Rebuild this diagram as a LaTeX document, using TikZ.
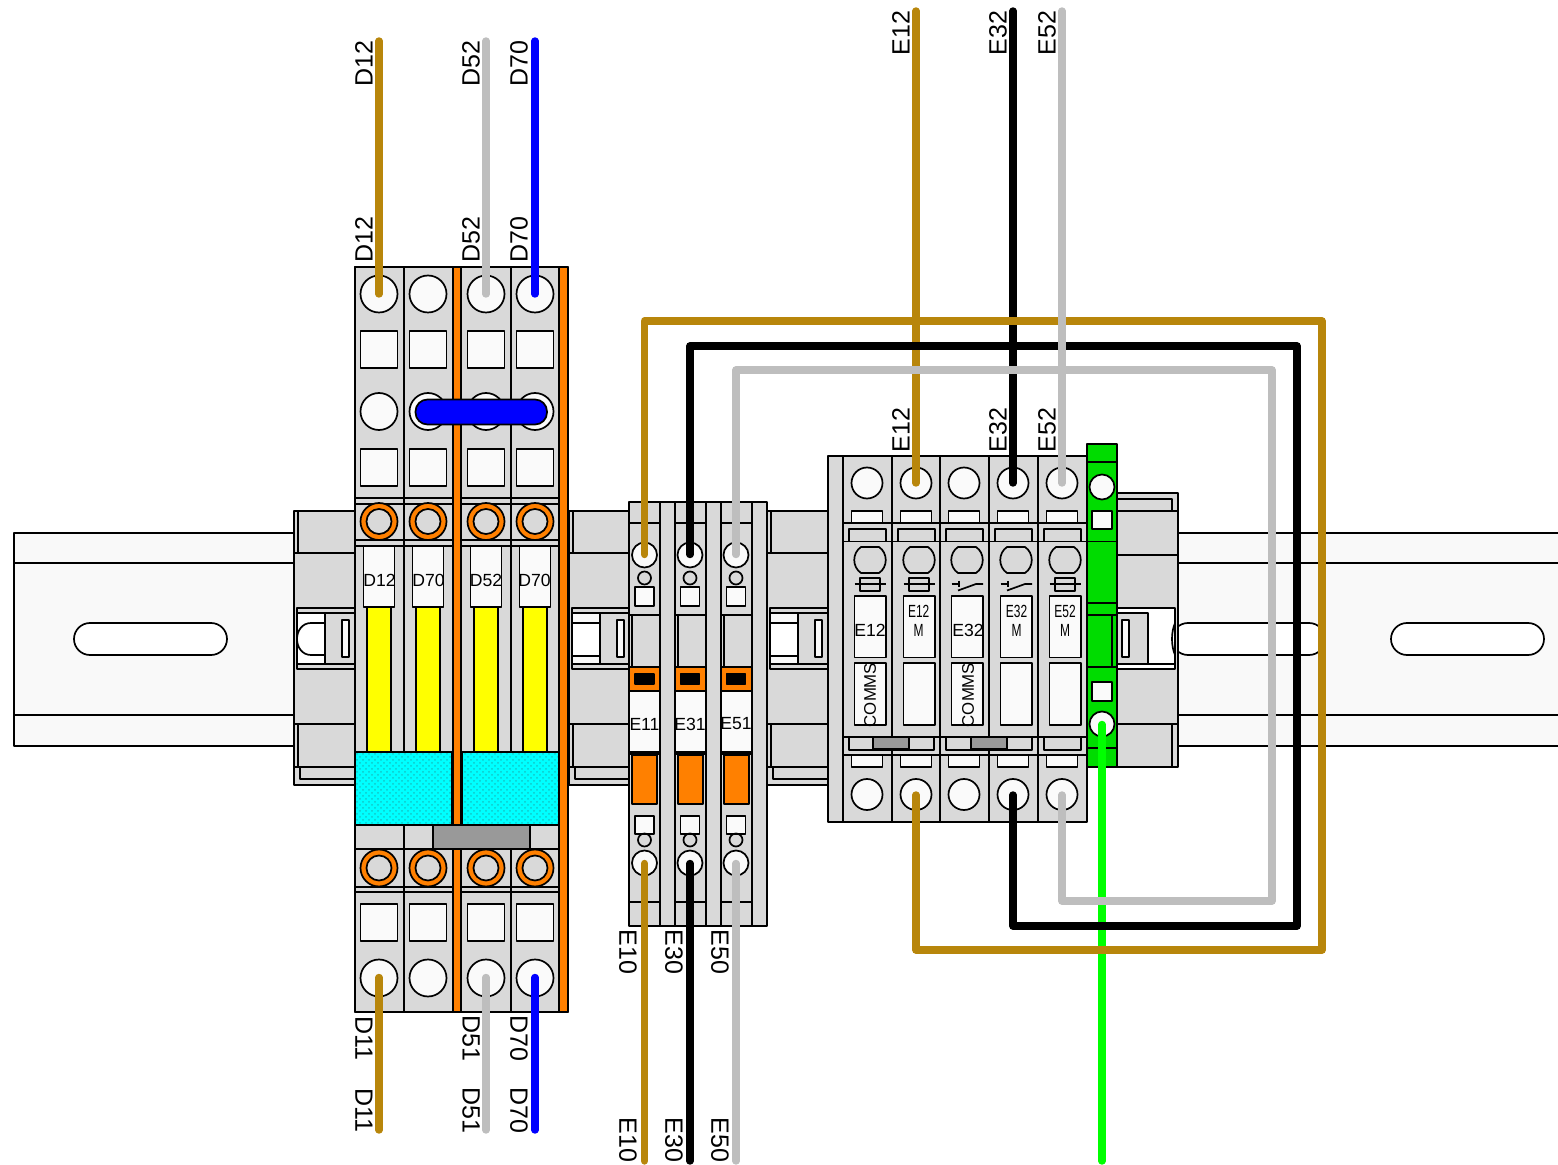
\documentclass[tikz,border=0pt]{standalone}
\usepackage{fontspec}
\setmainfont{Liberation Sans}
\usepackage{tikz}
\usetikzlibrary{patterns}
\tikzset{ln/.style={draw=black,line width=.85pt,line join=round}}
\tikzset{wire/.style={line width=3.7pt,line cap=round,line join=round}}
\tikzset{l/.style={font=\fontsize{12.5}{12.5}\selectfont,inner sep=0pt}}
\tikzset{m/.style={font=\fontsize{8.8}{9.2}\selectfont,inner sep=0pt}}
\definecolor{bodygrey}{HTML}{D9D9D9}
\definecolor{paper}{HTML}{FAFAFA}
\definecolor{railfill}{HTML}{F9F9F9}
\definecolor{capgrey}{HTML}{999999}
\definecolor{ferrule}{HTML}{FF8000}
\definecolor{goldwire}{HTML}{B8860B}
\definecolor{greywire}{HTML}{BEBEBE}
\definecolor{earthgreen}{HTML}{00DC00}
\definecolor{fuseyellow}{HTML}{FFFF00}
\definecolor{surgecyan}{HTML}{00FFFF}
\definecolor{surgedots}{HTML}{306060}
\newcommand{\cond}[1]{\scalebox{.68}[1]{#1}}

\begin{document}
\begin{tikzpicture}[x=.5pt,y=-.5pt]
  \useasboundingbox (0,0) rectangle (1558,1165);
  % rail
  \fill[railfill] (14,533) rectangle (1560,746);
  \draw[ln] (1560,533) -- (14,533) -- (14,746) -- (1560,746);
  \draw[ln] (14,563) -- (1560,563);
  \draw[ln] (14,715) -- (1560,715);
  \foreach \x in {74,1172,1391}
    \draw[ln,fill=white,rounded corners=8pt] (\x,623) rectangle (\x+153,655);

  % end brackets
  \foreach \x in {294,569,767} {
    \draw[ln,fill=bodygrey] (\x,511) rectangle (\x+62,785);
    \draw[ln] (\x+4,511) -- (\x+4,553);
    \draw[ln] (\x,553) -- (\x+62,553);
    \draw[ln] (\x,724) -- (\x+62,724);
    \draw[ln] (\x+4,724) -- (\x+4,767);
    \draw[ln] (\x,767) -- (\x+62,767);
    \draw[ln] (\x+6,767) -- (\x+6,779) -- (\x+62,779);
    \draw[ln] (\x+3,608) rectangle (\x+62,669);
    \draw[ln] (\x+3,613) -- (\x+62,613);
    \draw[ln] (\x+3,664) -- (\x+62,664);
    \draw[ln,fill=white] (\x+3,613) rectangle (\x+31,664);
    \draw[ln,fill=paper] (\x+48,620) rectangle (\x+55,657);
  }
  \draw[ln] (325,623) -- (311,623) .. controls (302,623) and (297,631) .. (297,639)
    .. controls (297,647) and (302,655) .. (311,655) -- (325,655);
  \foreach \x in {569,767} {
    \draw[ln,fill=railfill] (\x+3,613) rectangle (\x+31,623);
    \draw[ln,fill=railfill] (\x+3,656) rectangle (\x+31,664);
  }
  % bracket beside the earth block
  \draw[ln,fill=bodygrey] (1117,493) rectangle (1178,767);
  \draw[ln] (1117,499) -- (1172,499) -- (1172,511);
  \draw[ln] (1117,511) -- (1178,511);
  \draw[ln] (1117,555) -- (1178,555);
  \draw[ln] (1117,724) -- (1178,724);
  \draw[ln] (1172,724) -- (1172,767);
  \draw[ln,fill=white] (1117,608) rectangle (1175,669);
  \draw[ln] (1117,664) -- (1175,664);
  \draw[ln,fill=bodygrey] (1117,613) rectangle (1148,664);
  \draw[ln,fill=paper] (1122,620) rectangle (1129,657);
  \draw[ln] (1175,623) .. controls (1173,628) and (1172,633) .. (1172,639)
    .. controls (1172,645) and (1173,650) .. (1175,655);

  % D block
  \draw[ln,fill=bodygrey] (355,267) rectangle (568,1012);
  \fill[ferrule] (453,267) rectangle (461,1012);
  \fill[ferrule] (559,267) rectangle (568,1012);
  \draw[ln] (355,267) rectangle (568,1012);
  \foreach \x in {404,453,461,511,559}
    \draw[ln] (\x,267) -- (\x,1012);
  \foreach \y in {498,504,540,546,849,887,892} {
    \draw[ln] (355,\y) -- (453,\y);
    \draw[ln] (461,\y) -- (559,\y);
  }
  \foreach \x in {379,428,486,535} {
    \draw[ln,fill=paper] (\x,294) circle (18.5);
    \draw[ln,fill=paper] (\x-18.5,331) rectangle (\x+18.5,368);
    \draw[ln,fill=paper] (\x,411.5) circle (18.5);
    \draw[ln,fill=paper] (\x-18.5,449) rectangle (\x+18.5,486);
    \draw[ln,fill=ferrule] (\x,521.5) circle (18.5);
    \draw[ln,fill=bodygrey] (\x,521.5) circle (12.5);
    \draw[ln,fill=paper] (\x-15.5,546) rectangle (\x+15.5,607);
    \draw[ln,fill=fuseyellow] (\x-12,607) rectangle (\x+12,752);
    \draw[ln,fill=ferrule] (\x,868) circle (18.5);
    \draw[ln,fill=bodygrey] (\x,868) circle (12.5);
    \draw[ln,fill=paper] (\x-18.5,904) rectangle (\x+18.5,941);
    \draw[ln,fill=paper] (\x,978) circle (18.5);
  }
  \foreach \x in {355,462} {
    \fill[surgecyan] (\x,752) rectangle (\x+97,825);
    \fill[pattern=crosshatch dots,pattern color=surgedots,opacity=.35] (\x,752) rectangle (\x+97,825);
    \draw[ln] (\x,752) rectangle (\x+97,825);
  }
  \draw[ln,fill=capgrey] (433,825) rectangle (530,849);
  \draw[ln,fill=blue,rounded corners=6pt] (415.5,399.5) rectangle (547,424.5);
  \node[m] (tagD12) at (379.5,580) {D12};
  \node[m] (tagD70a) at (428.5,580) {D70};
  \node[m] (tagD52) at (486,580) {D52};
  \node[m] (tagD70b) at (534.5,580) {D70};

  % E block
  \draw[ln,fill=bodygrey] (629,502) rectangle (767,926);
  \foreach \x/\t/\c in {629/E11/644.5,675/E31/690,721/E51/736} {
    \draw[ln] (\x,502) -- (\x,926);
    \draw[ln] (\x+31,502) -- (\x+31,926);
    \draw[ln] (\x,523) -- (\x+31,523);
    \draw[ln] (\x,615) -- (\x+31,615);
    \draw[ln] (\x+3,615) -- (\x+3,667);
    \draw[ln,fill=paper] (\c,555) circle (12.5);
    \draw[ln] (\c,578) circle (6.5);
    \draw[ln,fill=paper] (\c-9.5,587) rectangle (\c+9.5,606);
    \draw[ln,fill=ferrule] (\x,667) rectangle (\x+31,691);
    \draw[ln,fill=black] (\c-9.5,674) rectangle (\c+9.5,684);
    \draw[ln,fill=paper] (\x,691) rectangle (\x+31,752);
    \draw[ln,fill=ferrule] (\x+3,755) rectangle (\x+28,804);
    \draw[ln] (\x,754) -- (\x+31,754);
    \draw[ln,fill=paper] (\c-9.5,816) rectangle (\c+9.5,834);
    \draw[ln] (\c,840) circle (6.5);
    \draw[ln,fill=paper] (\c,863) circle (12.5);
    \draw[ln] (\x,902) -- (\x+31,902);
    \node[m] (tag\t) at (\c,724) {\t};
  }

  % E12 to E52 block
  \draw[ln,fill=bodygrey] (828,456) rectangle (1087,822);
  \foreach \x in {843,892,940,989,1038}
    \draw[ln] (\x,456) -- (\x,822);
  \draw[ln] (843,523) -- (1087,523);
  \draw[ln] (843,541.5) -- (1087,541.5);
  \draw[ln] (843,737) -- (1087,737);
  \draw[ln] (843,755) -- (1087,755);
  \foreach \x in {843,892,940,989,1038} {
    \draw[ln,fill=paper] (\x+24,483) circle (15.5);
    \draw[ln,fill=paper] (\x+8.5,511) rectangle (\x+39.5,523);
    \draw[ln] (\x+6,541.5) -- (\x+6,529) -- (\x+43,529) -- (\x+43,541.5);
    \draw[ln] (\x+18,547) -- (\x+36,547) .. controls (\x+45,553) and (\x+45,567) .. (\x+36,573)
      -- (\x+18,573) .. controls (\x+9,567) and (\x+9,553) .. (\x+18,547) -- cycle;
    \draw[ln,fill=paper] (\x+11.5,596) rectangle (\x+43,657.5);
    \draw[ln,fill=paper] (\x+11.5,663) rectangle (\x+43,725);
    \draw[ln,fill=paper] (\x+8.5,755) rectangle (\x+39.5,767);
    \draw[ln,fill=paper] (\x+24,794.5) circle (15.5);
  }
  \foreach \x in {843,892,1038} {
    \draw[ln] (\x+11.5,584) -- (\x+43,584);
    \draw[ln] (\x+17,578) rectangle (\x+37,591);
  }
  \foreach \x in {940,989} {
    \draw[ln] (\x+11.5,584) -- (\x+20,584);
    \draw[ln] (\x+19,581) -- (\x+19,587);
    \draw[ln] (\x+18,590.5) -- (\x+36,584) -- (\x+43,584);
  }
  \draw[ln] (849,737) -- (849,750) -- (934,750) -- (934,737);
  \draw[ln] (946,737) -- (946,750) -- (1032,750) -- (1032,737);
  \draw[ln] (1044,737) -- (1044,750) -- (1081,750) -- (1081,737);
  \draw[ln,fill=capgrey] (873,737) rectangle (909,749);
  \draw[ln,fill=capgrey] (971,737) rectangle (1007,749);
  \node[m] (tagE12) at (870,630) {E12};
  \node[m] (tagE32) at (968,630) {E32};
  \node[m,align=center] (tagE12M) at (918.7,621) {\cond{E12}\\\cond{M}};
  \node[m,align=center] (tagE32M) at (1016.5,621) {\cond{E32}\\\cond{M}};
  \node[m,align=center] (tagE52M) at (1065,621) {\cond{E52}\\\cond{M}};
  \node[m,rotate=90,font=\fontsize{8.4}{9}\selectfont] (tagComA) at (870,695) {COMMS};
  \node[m,rotate=90,font=\fontsize{8.4}{9}\selectfont] (tagComB) at (968,695) {COMMS};

  % earth terminal
  \draw[ln,fill=earthgreen] (1087,444) rectangle (1117,767);
  \draw[ln] (1087,462) -- (1117,462);
  \draw[ln] (1087,541.5) -- (1117,541.5);
  \draw[ln] (1087,603) -- (1117,603);
  \draw[ln] (1087,615) -- (1117,615);
  \draw[ln] (1112,615) -- (1112,667);
  \draw[ln] (1087,667) -- (1117,667);
  \draw[ln] (1087,748) -- (1117,748);
  \draw[ln,fill=paper] (1102,487) circle (12.5);
  \draw[ln,fill=paper] (1092,511) rectangle (1112,529);
  \draw[ln,fill=paper] (1092,682) rectangle (1112,701);
  \draw[ln,fill=paper] (1102,724) circle (12.5);

  % wire ends
  \coordinate (topD12) at (379,41);
  \coordinate (topD52) at (486,41);
  \coordinate (topD70) at (535,41);
  \coordinate (inD12) at (379,294);
  \coordinate (inD52) at (486,294);
  \coordinate (inD70) at (535,294);
  \coordinate (outD11) at (379,977.5);
  \coordinate (outD51) at (486,977.5);
  \coordinate (outD70) at (535,977.5);
  \coordinate (endD11) at (379,1130);
  \coordinate (endD51) at (486,1130);
  \coordinate (endD70) at (535,1130);
  \coordinate (topE12) at (916,11);
  \coordinate (topE32) at (1013,11);
  \coordinate (topE52) at (1062,11);
  \coordinate (inE12) at (916,483);
  \coordinate (inE32) at (1013,483);
  \coordinate (inE52) at (1062,483);
  \coordinate (outE12) at (916,795);
  \coordinate (outE32) at (1013,795);
  \coordinate (outE52) at (1062,795);
  \coordinate (inE11) at (644.5,554.5);
  \coordinate (inE31) at (690,554.5);
  \coordinate (inE51) at (736,554.5);
  \coordinate (outE10) at (644.5,863.5);
  \coordinate (outE30) at (690,863.5);
  \coordinate (outE50) at (736,863.5);
  \coordinate (endE10) at (644.5,1161);
  \coordinate (endE30) at (690,1161);
  \coordinate (endE50) at (736,1161);
  \coordinate (goldA) at (1322,321);
  \coordinate (goldB) at (1322,950);
  \coordinate (blackA) at (1297,346);
  \coordinate (blackB) at (1297,926);
  \coordinate (greyA) at (1272,370);
  \coordinate (greyB) at (1272,901);
  \coordinate (inPE) at (1102,724.5);
  \coordinate (endPE) at (1102,1161);

  % wires
  \draw[wire,color=green] (inPE) -- (endPE);
  \draw[wire,color=goldwire] (topD12) -- (inD12);
  \draw[wire,color=greywire] (topD52) -- (inD52);
  \draw[wire,color=blue] (topD70) -- (inD70);
  \draw[wire,color=goldwire] (outD11) -- (endD11);
  \draw[wire,color=greywire] (outD51) -- (endD51);
  \draw[wire,color=blue] (outD70) -- (endD70);
  \draw[wire,color=black] (topE32) -- (inE32);
  \draw[wire,color=goldwire] (outE10) -- (endE10);
  \draw[wire,color=black] (outE30) -- (endE30);
  \draw[wire,color=greywire] (outE50) -- (endE50);
  \draw[wire,color=goldwire] (inE11) |- (goldA) -- (goldB) -| (outE12);
  \draw[wire,color=goldwire] (topE12) -- (inE12);
  \draw[wire,color=black] (inE31) |- (blackA) -- (blackB) -| (outE32);
  \draw[wire,color=greywire] (inE51) |- (greyA) -- (greyB) -| (outE52);
  \draw[wire,color=greywire] (topE52) -- (inE52);

  % labels
  \foreach \x/\t in {364/D12,471/D52,519/D70} {
    \node[l,rotate=90] (up\t) at (\x,64) {\t};
    \node[l,rotate=90] (low\t) at (\x,240) {\t};
  }
  \foreach \x/\t in {901/E12,998/E32,1047/E52} {
    \node[l,rotate=90] (up\t) at (\x,33) {\t};
    \node[l,rotate=90] (low\t) at (\x,430) {\t};
  }
  \foreach \x/\t in {628/E10,674/E30,720/E50} {
    \node[l,rotate=-90] (up\t) at (\x,952) {\t};
    \node[l,rotate=-90] (low\t) at (\x,1140) {\t};
  }
  \foreach \x/\t in {364/D11,471/D51,519/D70} {
    \node[l,rotate=-90] (outa\t) at (\x,1038) {\t};
    \node[l,rotate=-90] (outb\t) at (\x,1110) {\t};
  }
\end{tikzpicture}
\end{document}
